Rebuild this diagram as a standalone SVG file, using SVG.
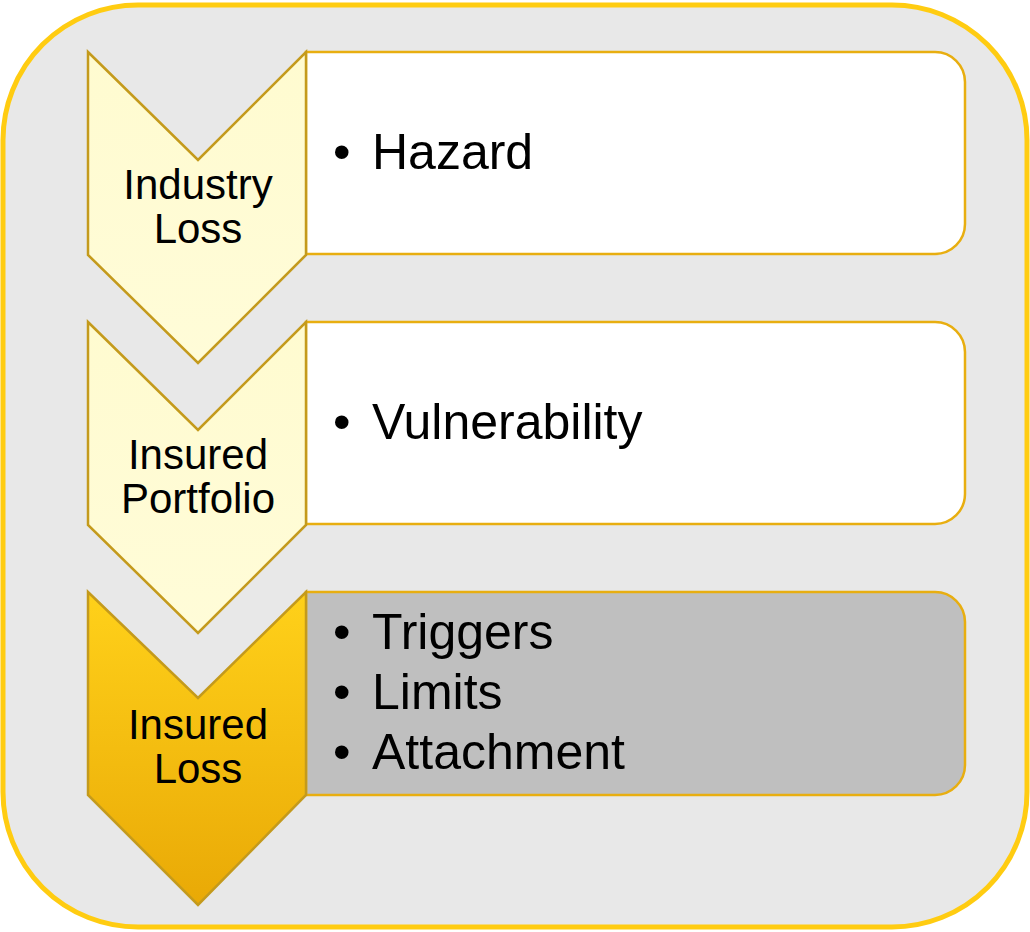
<svg xmlns="http://www.w3.org/2000/svg" width="1030" height="932" viewBox="0 0 1030 932">
<style>
.chev{fill:url(#gLight);stroke:#c49a1c;stroke-width:2.5}
.chev3{fill:url(#gGold);stroke:#c49a1c;stroke-width:2.5}
.box{fill:#ffffff;stroke:#e8ae10;stroke-width:2.5}
.box3{fill:#bfbfbf;stroke:#e8ae10;stroke-width:2.5}
.lbl{font-family:"Liberation Sans",Arial,sans-serif;font-size:42px;fill:#000;text-anchor:middle}
.bul{font-family:"Liberation Sans",Arial,sans-serif;font-size:50px;fill:#000}
</style>
<defs>
<linearGradient id="gLight" x1="0" y1="0" x2="0" y2="1">
<stop offset="0" stop-color="#fffbd0"/>
<stop offset="1" stop-color="#fffcd8"/>
</linearGradient>
<linearGradient id="gGold" x1="0" y1="0" x2="0" y2="1">
<stop offset="0" stop-color="#ffd11a"/>
<stop offset="1" stop-color="#e9a906"/>
</linearGradient>
</defs>
<rect x="3" y="5" width="1024" height="922" rx="135" ry="135" fill="#e8e8e8" stroke="#ffcc11" stroke-width="5"/>
<g id="box1">
<path class="box" d="M306 52 H935 A30 30 0 0 1 965 82 V224 A30 30 0 0 1 935 254 H306 Z"/>
<text class="bul" x="333" y="169">•</text>
<text class="bul" x="372" y="169">Hazard</text>
</g>
<g id="box2">
<path class="box" d="M306 322 H935 A30 30 0 0 1 965 352 V494 A30 30 0 0 1 935 524 H306 Z"/>
<text class="bul" x="333" y="439">•</text>
<text class="bul" x="372" y="439">Vulnerability</text>
</g>
<g id="box3">
<path class="box3" d="M306 592 H935 A30 30 0 0 1 965 622 V765 A30 30 0 0 1 935 795 H306 Z"/>
<text class="bul" x="333" y="649">•</text>
<text class="bul" x="372" y="649">Triggers</text>
<text class="bul" x="333" y="709">•</text>
<text class="bul" x="372" y="709">Limits</text>
<text class="bul" x="333" y="769">•</text>
<text class="bul" x="372" y="769">Attachment</text>
</g>
<g id="chevron1">
<polygon class="chev" points="88,52 198,160 306,52 306,255 198,363 88,255"/>
<text class="lbl" x="198" y="199">Industry</text>
<text class="lbl" x="198" y="243">Loss</text>
</g>
<g id="chevron2">
<polygon class="chev" points="88,322 198,430 306,322 306,525 198,633 88,525"/>
<text class="lbl" x="198" y="469">Insured</text>
<text class="lbl" x="198" y="513">Portfolio</text>
</g>
<g id="chevron3">
<polygon class="chev3" points="88,592 198,698 306,592 306,795 198,905 88,795"/>
<text class="lbl" x="198" y="739">Insured</text>
<text class="lbl" x="198" y="783">Loss</text>
</g>
<g id="connectors"/>
</svg>
